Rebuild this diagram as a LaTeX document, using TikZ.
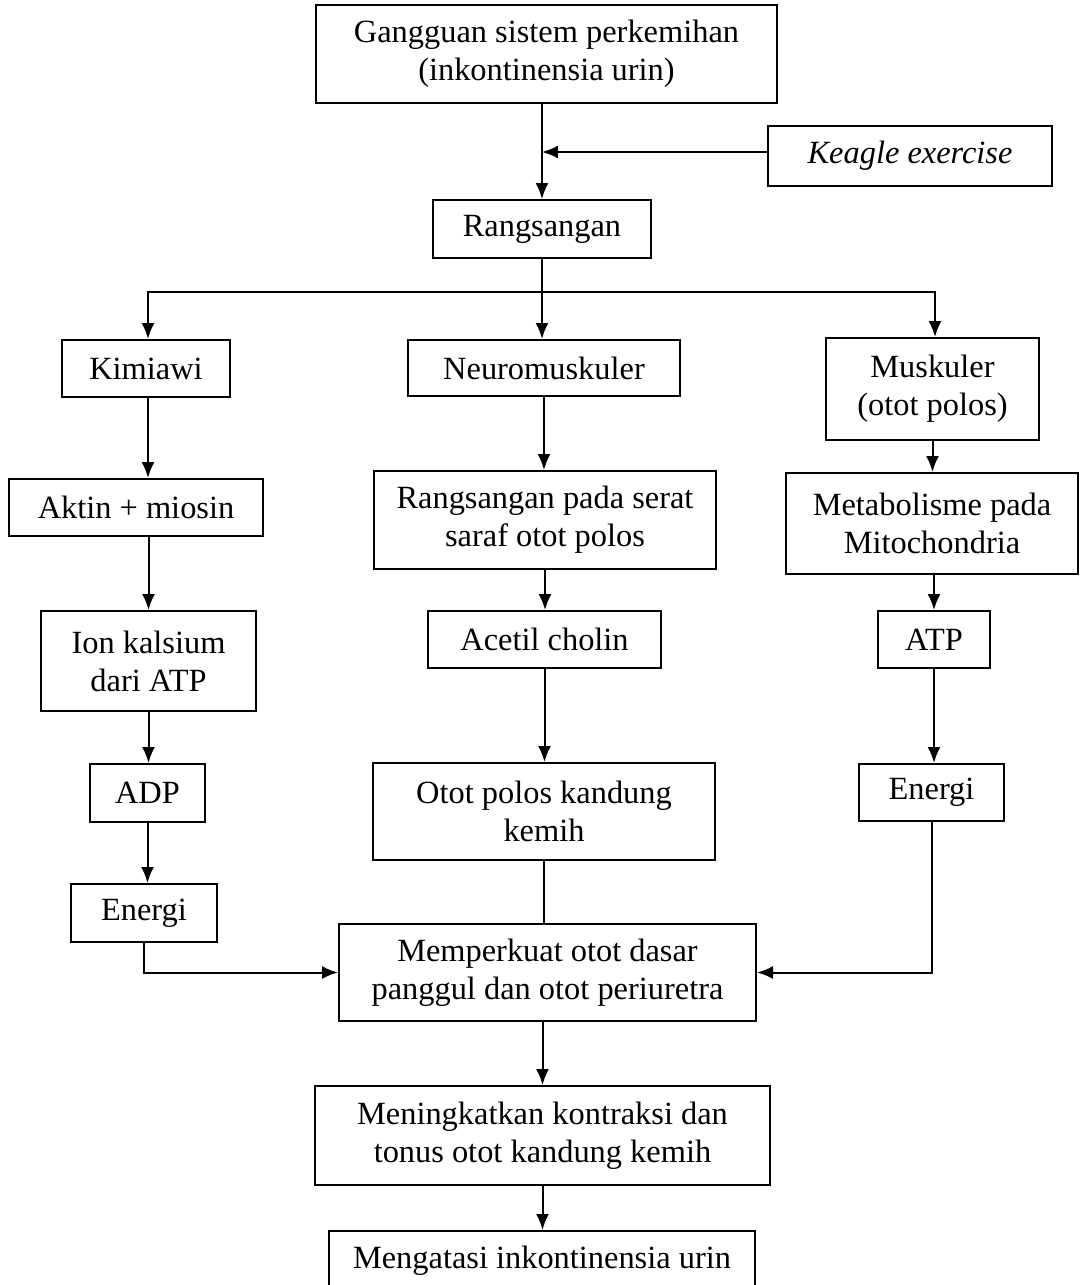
\documentclass[tikz,border=0pt]{standalone}
\usepackage{fontspec}
\setmainfont{Liberation Serif}
\usepackage{tikz}
\usetikzlibrary{arrows.meta}

\tikzset{
  box/.style={shape=rectangle, draw=black, line width=1pt, align=center, inner sep=2pt,
    font=\fontsize{16.2}{19}\selectfont},
  link/.style={-, line width=1pt, black},
  arr/.style={link, -{Latex[length=8pt,width=6.5pt]}}
}

\begin{document}
\begin{tikzpicture}[x=0.5pt, y=-0.5pt]

\useasboundingbox (0,0) rectangle (1080,1285);

% nodes

\node[box, minimum width=230.5pt, minimum height=49pt] (gangguan) at (546.5,54) {Gangguan sistem perkemihan\\(inkontinensia urin)};
\node[box, minimum width=142pt, minimum height=30pt] (keagle) at (910,156) {\itshape Keagle exercise};
\node[box, minimum width=109pt, minimum height=29pt] (rang) at (542,229) {Rangsangan};

\node[box, minimum width=84pt, minimum height=28.5pt] (kimia) at (146,368.5) {Kimiawi};
\node[box, minimum width=136pt, minimum height=28pt] (neuro) at (544,368) {Neuromuskuler};
\node[box, minimum width=106.5pt, minimum height=51pt] (musk) at (932.5,389) {Muskuler\\(otot polos)};

\node[box, minimum width=127pt, minimum height=28.5pt] (aktin) at (136,507.5) {Aktin + miosin};
\node[box, minimum width=171pt, minimum height=49pt] (serat) at (545,520) {Rangsangan pada serat\\saraf otot polos};
\node[box, minimum width=146pt, minimum height=50.5pt] (mito) at (932,523.5) {Metabolisme pada\\Mitochondria};

\node[box, minimum width=107.5pt, minimum height=50pt] (ion) at (148.5,661) {Ion kalsium\\dari ATP};
\node[box, minimum width=116.5pt, minimum height=28.5pt] (acetil) at (544.5,639.5) {Acetil cholin};
\node[box, minimum width=56pt, minimum height=28.5pt] (atp) at (934,639.5) {ATP};

\node[box, minimum width=57.5pt, minimum height=29pt] (adp) at (147.5,793) {ADP};
\node[box, minimum width=171pt, minimum height=48.5pt] (kandung) at (544,811.5) {Otot polos kandung\\kemih};
\node[box, minimum width=72.5pt, minimum height=28.5pt] (energiR) at (931.5,792.5) {Energi};
\node[box, minimum width=73pt, minimum height=29pt] (energiL) at (144,913) {Energi};

\node[box, minimum width=208.5pt, minimum height=48.5pt] (perkuat) at (547.5,972.5) {Memperkuat otot dasar\\panggul dan otot periuretra};
\node[box, minimum width=227.5pt, minimum height=49.5pt] (tingkat) at (542.5,1135.5) {Meningkatkan kontraksi dan\\tonus otot kandung kemih};
\node[box, minimum width=213pt, minimum height=30pt] (atasi) at (542,1261) {Mengatasi inkontinensia urin};

\coordinate (split) at (542,292);

%% lines

\draw[arr] (gangguan.south -| rang) -- (rang);
\draw[arr] (keagle.west |- 0,152) -- (542,152);
\draw[arr] (rang) -- (rang |- neuro.north);
\draw[arr] (split) -| (kimia.north -| 148,0);
\draw[arr] (split) -| (musk.north -| 935,0);

%% left column
\draw[arr] (kimia.south -| 148,0) -- (aktin.north -| 148,0);
\draw[arr] (aktin.south -| ion) -- (ion);
\draw[arr] (ion) -- (ion |- adp.north);
\draw[arr] (adp) -- (adp |- energiL.north);
\draw[arr] (energiL) |- (perkuat);

%% middle column
\draw[arr] (neuro) -- (neuro |- serat.north);
\draw[arr] (serat) -- (serat |- acetil.north);
\draw[arr] (acetil) -- (acetil |- kandung.north);
\draw[link] (kandung) -- (kandung |- perkuat.north);

%% right column
\draw[arr] (musk) -- (musk |- mito.north);
\draw[arr] (mito.south -| atp) -- (atp);
\draw[arr] (atp) -- (atp |- energiR.north);
\draw[arr] (energiR) |- (perkuat);

%% bottom
\draw[arr] (perkuat.south -| tingkat) -- (tingkat);
\draw[arr] (tingkat) -- (tingkat |- atasi.north);

\end{tikzpicture}
\end{document}
